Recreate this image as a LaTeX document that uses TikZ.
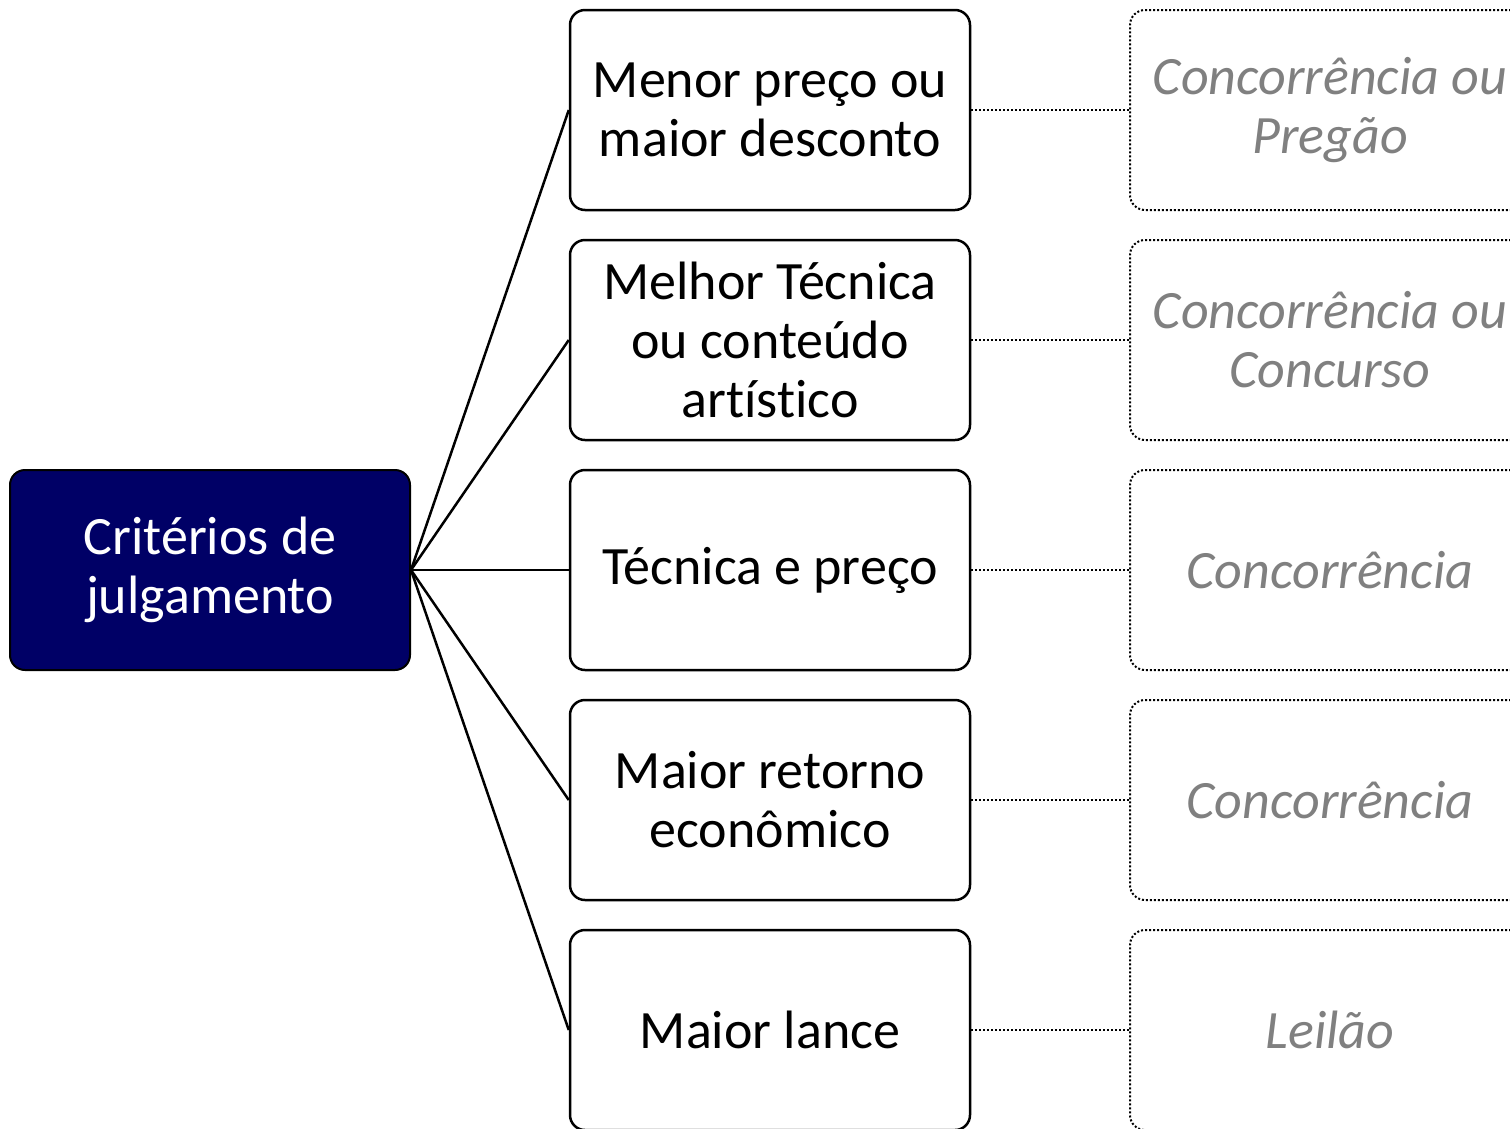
\documentclass[tikz,border=0pt]{standalone}
\usepackage{fontspec}
\setmainfont[Ligatures={NoCommon}]{Carlito}
\definecolor{navybox}{HTML}{000066}
\definecolor{graytext}{HTML}{808080}
\begin{document}
\begin{tikzpicture}[x=1pt,y=-1pt,
  basebox/.style={rectangle, rounded corners=15pt, minimum width=400pt, minimum height=200pt,
    inner sep=0pt, align=center, font=\fontsize{54}{59}\selectfont},
  rootbox/.style={basebox, draw=black, line width=2pt, fill=navybox, text=white},
  critbox/.style={basebox, draw=black, line width=2.5pt, fill=white},
  modbox/.style={basebox, draw=black, line width=2pt, dash pattern=on 2pt off 2pt,
    text=graytext, font=\fontsize{54}{59}\selectfont\itshape},
  link/.style={line width=2.5pt},
  dotlink/.style={line width=2pt, dash pattern=on 2pt off 2pt}]
\clip (0,0) rectangle (1510,1128);
\node[rootbox] (root) at (210,570) {Critérios de\\julgamento};
\node[critbox] (c1) at (770,110) {Menor preço ou\\maior desconto};
\node[critbox] (c2) at (770,340) {Melhor Técnica\\ou conteúdo\\artístico};
\node[critbox] (c3) at (770,570) {Técnica e preço};
\node[critbox] (c4) at (770,800) {Maior retorno\\econômico};
\node[critbox] (c5) at (770,1030) {Maior lance};
\node[modbox] (m1) at (1330,110) {Concorrência ou\\Pregão};
\node[modbox] (m2) at (1330,340) {Concorrência ou\\Concurso};
\node[modbox] (m3) at (1330,570) {Concorrência};
\node[modbox] (m4) at (1330,800) {Concorrência};
\node[modbox] (m5) at (1330,1030) {Leilão};
\foreach \i in {1,...,5}{
  \draw[link] (root.east) -- (c\i.west);
  \draw[dotlink] (c\i.east) -- (m\i.west);
}
\end{tikzpicture}
\end{document}
